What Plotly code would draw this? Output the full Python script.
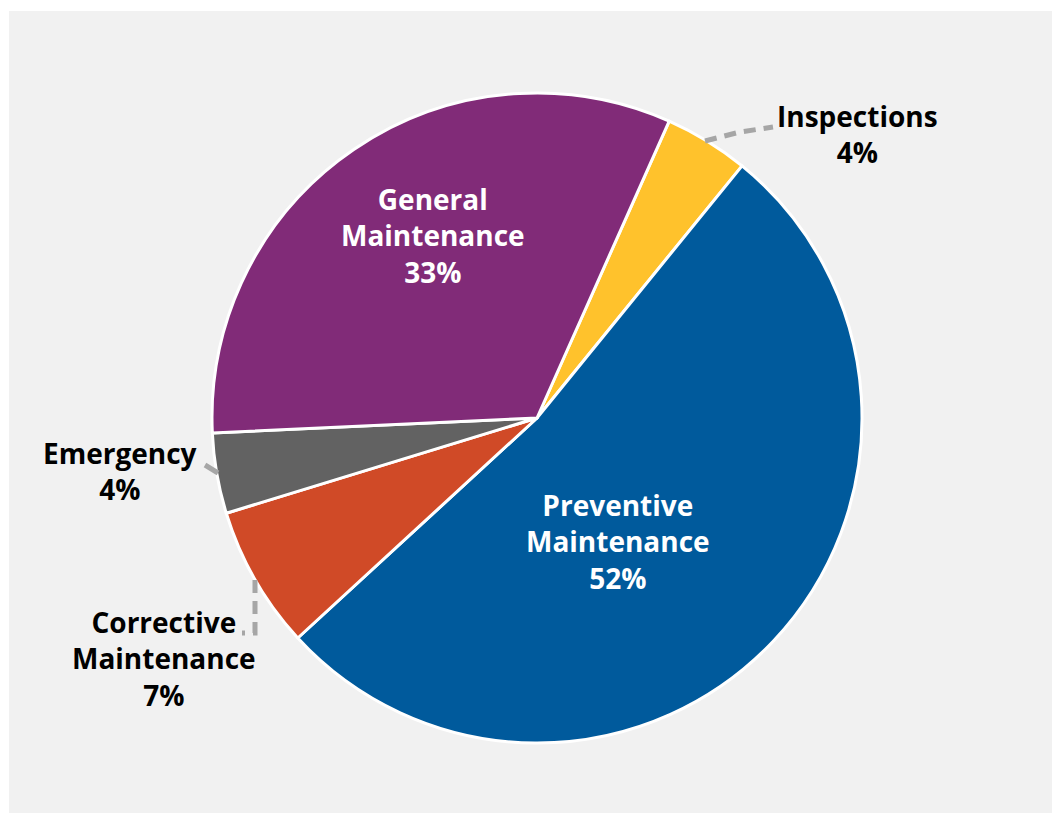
import plotly.graph_objects as go

# ---- data ----
categories = ["Inspections", "Preventive Maintenance", "Corrective Maintenance", "Emergency", "General Maintenance"]
values = [4.2, 52.3, 7.1, 4.0, 32.4]
pct_labels = ["4%", "52%", "7%", "4%", "33%"]
label_lines = ["Inspections", "Preventive<br>Maintenance", "Corrective<br>Maintenance", "Emergency", "General<br>Maintenance"]

# ---- style ----
colors = ["#FFC22C", "#005A9C", "#D04A27", "#626262", "#812B78"]
W, H = 1052, 813
CX, CY, R = 537, 418, 325
FONT = "Open Sans"


def px(x):
    return x / W


def py(y):
    return 1 - y / H


fig = go.Figure()
fig.add_trace(go.Pie(
    labels=categories,
    values=values,
    sort=False,
    direction="clockwise",
    rotation=24,
    marker=dict(colors=colors, line=dict(color="white", width=3)),
    textinfo="none",
    hoverinfo="label+percent",
    showlegend=False,
    domain=dict(x=[px(CX - R), px(CX + R)], y=[py(CY + R), py(CY - R)]),
))

# label placement (pixel centres) and text colours
label_pos = [(857, 134), (618, 541), (164, 658), (120, 471), (433, 235)]
label_col = ["black", "white", "black", "black", "white"]

for name, pct, (lx, ly), col in zip(label_lines, pct_labels, label_pos, label_col):
    fig.add_annotation(
        x=px(lx), y=py(ly), xref="paper", yref="paper",
        text=f"<b>{name}<br>{pct}</b>", showarrow=False,
        font=dict(family=FONT, size=28, color=col),
        align="center", xanchor="center", yanchor="middle",
    )

# leader lines
leaders = [
    ([(705, 141), (740, 132), (773, 127)], "12px,8px"),
    ([(205, 465), (218, 473)], "solid"),
    ([(255, 580), (255, 633), (242, 633)], "13px,8px"),
]
for pts, dash in leaders:
    path = "M " + " L ".join(f"{px(x)},{py(y)}" for x, y in pts)
    fig.add_shape(type="path", path=path, xref="paper", yref="paper",
                  line=dict(color="#A6A6A6", width=5, dash=dash))

# background panel
fig.add_shape(type="rect", xref="paper", yref="paper",
              x0=px(9), x1=1, y0=0, y1=py(11),
              fillcolor="#F1F1F1", line=dict(width=0), layer="below")

fig.update_layout(
    width=W, height=H,
    margin=dict(l=0, r=0, t=0, b=0),
    paper_bgcolor="white",
    plot_bgcolor="white",
)

fig.write_html("out.html")
